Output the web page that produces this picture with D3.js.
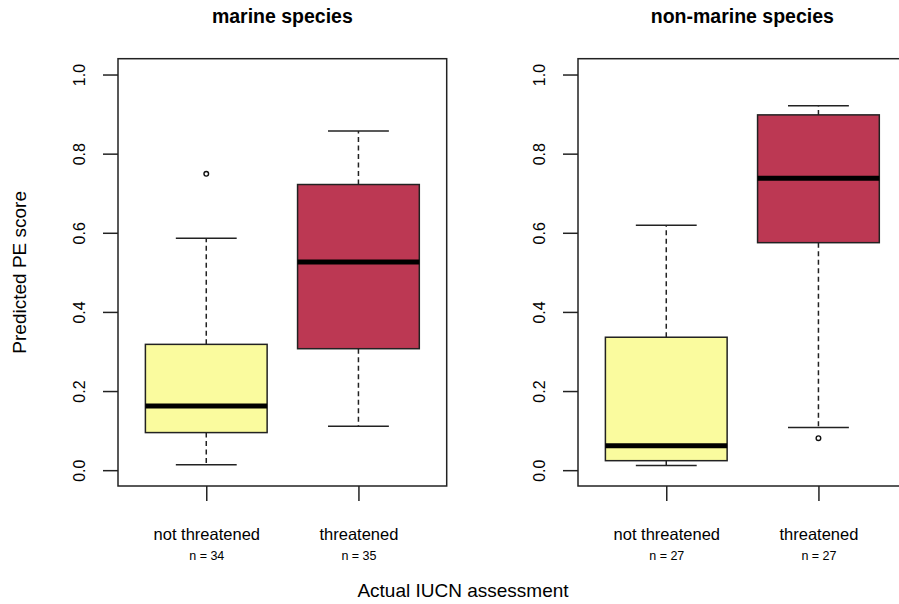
<!DOCTYPE html>
<html>
<head>
<meta charset="utf-8">
<script src="https://cdn.jsdelivr.net/npm/d3@7"></script>
<style>
  body { margin: 0; background: #fff; }
  svg text { font-family: "Liberation Sans", Arial, sans-serif; fill: #000; }
</style>
</head>
<body>
<div id="chart"></div>
<script>
// data
const panels = ["marine species", "non-marine species"];
const categories = ["not threatened", "threatened"];
const counts = [[34, 35], [27, 27]];
// [lower whisker, Q1, median, Q3, upper whisker]
const marine_stats = [
  [0.014, 0.095, 0.162, 0.318, 0.586],
  [0.111, 0.307, 0.526, 0.722, 0.857]
];
const nonmarine_stats = [
  [0.012, 0.024, 0.062, 0.336, 0.619],
  [0.108, 0.575, 0.738, 0.898, 0.921]
];
const marine_outliers = [[0.749], []];
const nonmarine_outliers = [[], [0.081]];
const y_ticks = [0, 0.2, 0.4, 0.6, 0.8, 1.0];
const fills = ["#FAFB9E", "#BC3853"];

const W = 899, H = 604;
const panel_x = [118, 578];
const panel_w = 328.7;
const plot_top = 58.7, plot_bottom = 486;

const svg = d3.select("#chart")
  .append("svg")
  .attr("width", W)
  .attr("height", H);

const y_scale = d3.scaleLinear().domain([-0.04, 1.04]).range([plot_bottom, plot_top]);

const all_stats = [marine_stats, nonmarine_stats];
const all_out = [marine_outliers, nonmarine_outliers];

panels.forEach((title, p) => {
  const x0 = panel_x[p];
  const x_scale = d3.scaleLinear().domain([0.42, 2.58]).range([x0, x0 + panel_w]);
  const half = (x_scale(1.4) - x_scale(1)) ; // half box width (0.4 units)
  const g = svg.append("g");

  // boxes
  all_stats[p].forEach((s, i) => {
    const cx = x_scale(i + 1);
    const bx = g.append("g");
    // whiskers
    bx.append("line")
      .attr("x1", cx).attr("x2", cx)
      .attr("y1", y_scale(s[3])).attr("y2", y_scale(s[4]))
      .attr("stroke", "#222").attr("stroke-width", 1.5)
      .attr("stroke-dasharray", "5,3.5");
    bx.append("line")
      .attr("x1", cx).attr("x2", cx)
      .attr("y1", y_scale(s[1])).attr("y2", y_scale(s[0]))
      .attr("stroke", "#222").attr("stroke-width", 1.5)
      .attr("stroke-dasharray", "5,3.5");
    [s[0], s[4]].forEach(v => {
      bx.append("line")
        .attr("x1", cx - half / 2).attr("x2", cx + half / 2)
        .attr("y1", y_scale(v)).attr("y2", y_scale(v))
        .attr("stroke", "#222").attr("stroke-width", 1.5);
    });
    bx.append("rect")
      .attr("x", cx - half).attr("width", 2 * half)
      .attr("y", y_scale(s[3])).attr("height", y_scale(s[1]) - y_scale(s[3]))
      .attr("fill", fills[i]).attr("stroke", "#222").attr("stroke-width", 1.5);
    bx.append("line")
      .attr("x1", cx - half).attr("x2", cx + half)
      .attr("y1", y_scale(s[2])).attr("y2", y_scale(s[2]))
      .attr("stroke", "#000").attr("stroke-width", 5);
    all_out[p][i].forEach(v => {
      bx.append("circle")
        .attr("cx", cx).attr("cy", y_scale(v)).attr("r", 2.3)
        .attr("fill", "none").attr("stroke", "#111").attr("stroke-width", 1.4);
    });
  });

  // frame
  g.append("rect")
    .attr("x", x0).attr("y", plot_top)
    .attr("width", panel_w).attr("height", plot_bottom - plot_top)
    .attr("fill", "none").attr("stroke", "#222").attr("stroke-width", 1.5);

  // y axis
  const ya = g.append("g")
    .attr("transform", "translate(" + x0 + ",0)")
    .call(d3.axisLeft(y_scale).tickValues(y_ticks).tickSize(15).tickFormat(d3.format(".1f")));
  ya.select(".domain").remove();
  ya.selectAll(".tick line").attr("stroke", "#222").attr("stroke-width", 1.5);
  ya.selectAll(".tick text")
    .attr("x", null).attr("dy", null)
    .attr("text-anchor", "middle")
    .attr("transform", "translate(-39,0) rotate(-90)")
    .attr("dy", "0.35em")
    .style("font-size", "16px");

  // x axis
  const xa = g.append("g")
    .attr("transform", "translate(0," + plot_bottom + ")")
    .call(d3.axisBottom(x_scale).tickValues([1, 2]).tickSize(15).tickFormat((d, i) => categories[i]));
  xa.select(".domain").remove();
  xa.selectAll(".tick line").attr("stroke", "#222").attr("stroke-width", 1.5);
  xa.selectAll(".tick text")
    .attr("y", 54).attr("dy", null)
    .style("font-size", "16.5px");
  xa.selectAll(".tick").append("text")
    .attr("y", 74)
    .attr("text-anchor", "middle")
    .style("font-size", "12.5px")
    .attr("fill", "#000")
    .text((d, i) => "n = " + counts[p][i]);

  // title
  g.append("text")
    .attr("x", x0 + panel_w / 2).attr("y", 23)
    .attr("text-anchor", "middle")
    .style("font-size", "19.5px").style("font-weight", "bold")
    .text(title);
});

svg.append("text")
  .attr("x", 463).attr("y", 597)
  .attr("text-anchor", "middle")
  .style("font-size", "19px")
  .text("Actual IUCN assessment");

svg.append("text")
  .attr("transform", "translate(26," + (plot_top + plot_bottom) / 2 + ") rotate(-90)")
  .attr("text-anchor", "middle")
  .style("font-size", "19px")
  .text("Predicted PE score");
</script>
</body>
</html>
